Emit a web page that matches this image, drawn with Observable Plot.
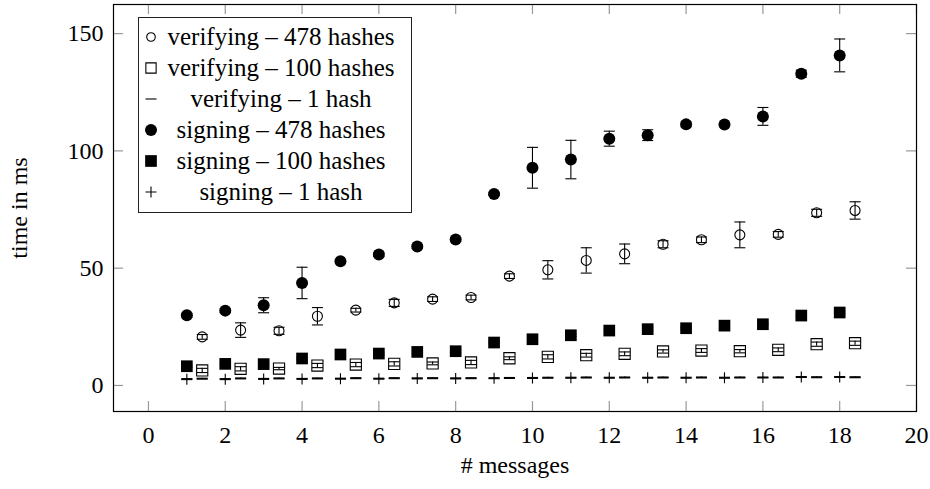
<!DOCTYPE html>
<html>
<head>
<meta charset="utf-8">
<script src="https://cdn.jsdelivr.net/npm/d3@7"></script>
<script src="https://cdn.jsdelivr.net/npm/@observablehq/plot@0.6"></script>
<style>
  html, body { margin: 0; padding: 0; background: #fff; }
  #wrap { position: relative; width: 930px; height: 489px; font-family: "Liberation Serif", "DejaVu Serif", serif; color: #000; }
  #legend { position: absolute; left: 138px; top: 17px; width: 274px; height: 196px; box-sizing: border-box; border: 1.2px solid #222; background: #fff; }
  .row { position: absolute; left: 0; width: 272px; height: 31px; }
  .row svg { position: absolute; left: 4px; top: 8px; }
  .row span { position: absolute; left: 24px; width: 236px; text-align: center; line-height: 31px; font-size: 25px; white-space: nowrap; }
</style>
</head>
<body>
<div id="wrap"><div id="chart"></div><div id="legend"></div></div>
<script>
// ---- data ----
const xSigning   = [1, 2, 3, 4, 5, 6, 7, 8, 9, 10, 11, 12, 13, 14, 15, 16, 17, 18];
const xVerifying = [1.4, 2.4, 3.4, 4.4, 5.4, 6.4, 7.4, 8.4, 9.4, 10.4, 11.4, 12.4, 13.4, 14.4, 15.4, 16.4, 17.4, 18.4];

const verifying478    = [20.7, 23.6, 23.3, 29.5, 32.1, 35.2, 36.8, 37.5, 46.6, 49.3, 53.3, 56.1, 60.2, 62.1, 64.2, 64.4, 73.6, 74.6];
const verifying478Err = [1.0, 3.1, 1.5, 3.7, 0.8, 1.5, 1.0, 1.0, 1.0, 3.9, 5.4, 4.2, 1.5, 1.2, 5.5, 1.2, 1.5, 3.7];
const verifying100    = [6.4, 7.1, 7.2, 8.5, 8.9, 9.2, 9.4, 9.8, 11.6, 12.2, 12.9, 13.5, 14.5, 14.9, 14.6, 15.2, 17.6, 18.0];
const verifying100Err = [0.9, 0.9, 0.5, 0.9, 0.9, 0.9, 0.6, 0.9, 0.6, 0.9, 0.8, 0.8, 0.7, 0.8, 0.7, 0.8, 0.9, 0.9];
const verifying1      = [2.9, 3.0, 3.0, 3.0, 3.1, 3.1, 3.1, 3.1, 3.2, 3.3, 3.4, 3.4, 3.4, 3.4, 3.4, 3.4, 3.5, 3.5];
const verifying1Err   = [0.2, 0.2, 0.2, 0.2, 0.2, 0.2, 0.2, 0.2, 0.2, 0.2, 0.2, 0.2, 0.2, 0.2, 0.2, 0.2, 0.2, 0.2];
const signing478      = [29.9, 31.9, 34.2, 43.7, 52.9, 55.8, 59.2, 62.2, 81.6, 92.8, 96.3, 105.2, 106.7, 111.3, 111.2, 114.7, 132.9, 140.7];
const signing478Err   = [0.8, 0.8, 3.2, 6.7, 0.8, 0.8, 0.8, 0.8, 0.6, 8.7, 8.2, 3.2, 2.3, 1.0, 0.5, 3.8, 1.5, 7.0];
const signing100      = [8.2, 9.2, 9.1, 11.5, 13.2, 13.6, 14.3, 14.6, 18.3, 19.7, 21.4, 23.4, 24.0, 24.4, 25.5, 26.1, 29.8, 31.1];
const signing100Err   = [0.5, 0.5, 0.5, 0.5, 0.5, 0.5, 0.5, 0.5, 0.5, 0.5, 0.5, 0.5, 0.5, 0.5, 0.5, 0.5, 0.5, 0.5];
const signing1        = [2.7, 2.7, 2.8, 2.8, 2.9, 2.9, 3.0, 3.0, 3.1, 3.2, 3.3, 3.3, 3.3, 3.3, 3.3, 3.4, 3.6, 3.6];
const signing1Err     = [0.2, 0.2, 0.2, 0.2, 0.2, 0.2, 0.2, 0.2, 0.2, 0.2, 0.2, 0.2, 0.2, 0.2, 0.2, 0.2, 0.2, 0.2];

const seriesNames = ["verifying – 478 hashes", "verifying – 100 hashes", "verifying – 1 hash",
                     "signing – 478 hashes", "signing – 100 hashes", "signing – 1 hash"];
const xTicks = [0, 2, 4, 6, 8, 10, 12, 14, 16, 18, 20];
const yTicks = [0, 50, 100, 150];

// ---- symbols ----
const hline = {draw(ctx, size) { const r = Math.sqrt(size / Math.PI); ctx.moveTo(-r, 0); ctx.lineTo(r, 0); }};
const plus  = {draw(ctx, size) { const r = Math.sqrt(size / Math.PI); ctx.moveTo(-r, 0); ctx.lineTo(r, 0); ctx.moveTo(0, -r); ctx.lineTo(0, r); }};

const styles = [
  {symbol: "circle", r: 5,   fill: "none",  stroke: "black"},
  {symbol: "square", r: 6.3, fill: "none",  stroke: "black"},
  {symbol: hline,    r: 5.5, fill: "none",  stroke: "black"},
  {symbol: "circle", r: 6,   fill: "black", stroke: "none"},
  {symbol: "square", r: 6.6, fill: "black", stroke: "none"},
  {symbol: plus,     r: 5.5, fill: "none",  stroke: "black"}
];

const seriesData = [
  [xVerifying, verifying478, verifying478Err],
  [xVerifying, verifying100, verifying100Err],
  [xVerifying, verifying1, verifying1Err],
  [xSigning, signing478, signing478Err],
  [xSigning, signing100, signing100Err],
  [xSigning, signing1, signing1Err]
];

const tables = seriesData.map(([xs, ys, es]) => xs.map((x, i) => ({x, y: ys[i], lo: ys[i] - es[i], hi: ys[i] + es[i]})));

const marginLeft = 113, marginRight = 14, marginTop = 4, marginBottom = 78;
const W = 930, H = 489;
const innerW = W - marginLeft - marginRight, innerH = H - marginTop - marginBottom;
const tickLen = 10;

const marks = [
  Plot.ruleX(xTicks, {x: d => d, stroke: "#999", strokeWidth: 1.2, insetTop: innerH - tickLen}),
  Plot.ruleX(xTicks, {x: d => d, stroke: "#999", strokeWidth: 1.2, insetBottom: innerH - tickLen}),
  Plot.ruleY(yTicks, {y: d => d, stroke: "#999", strokeWidth: 1.2, insetRight: innerW - tickLen}),
  Plot.ruleY(yTicks, {y: d => d, stroke: "#999", strokeWidth: 1.2, insetLeft: innerW - tickLen}),
  Plot.frame({stroke: "black", strokeWidth: 1.2}),
  Plot.axisX({ticks: xTicks, tickSize: 0, tickPadding: 14, tickFormat: d => String(d), fontSize: 24,
              label: "# messages", labelAnchor: "center", labelArrow: "none", labelOffset: 61}),
  Plot.axisY({ticks: yTicks, tickSize: 0, tickPadding: 10, tickFormat: d => String(d), fontSize: 24,
              label: "time in ms", labelAnchor: "center", labelArrow: "none", labelOffset: 104})
];

tables.forEach((data, k) => {
  const s = styles[k];
  marks.push(Plot.ruleX(data, {x: "x", y1: "lo", y2: "hi", stroke: "black", strokeWidth: 1.1}));
  marks.push(Plot.dot(data, {x: "x", y: "lo", symbol: hline, r: 5.5, stroke: "black", fill: "none", strokeWidth: 1.1}));
  marks.push(Plot.dot(data, {x: "x", y: "hi", symbol: hline, r: 5.5, stroke: "black", fill: "none", strokeWidth: 1.1}));
  marks.push(Plot.dot(data, {x: "x", y: "y", symbol: s.symbol, r: s.r, fill: s.fill, stroke: s.stroke, strokeWidth: 1.1}));
});

const chart = Plot.plot({
  width: W, height: H,
  marginLeft, marginRight, marginTop, marginBottom,
  style: {fontFamily: '"Liberation Serif", "DejaVu Serif", serif', fontSize: "24px", color: "black", background: "white"},
  x: {domain: [-0.91, 20]},
  y: {domain: [-11.1, 162.4]},
  marks
});
document.getElementById("chart").appendChild(chart);

const legend = document.getElementById("legend");
seriesNames.forEach((name, k) => {
  const s = styles[k];
  const row = document.createElement("div");
  row.className = "row";
  row.style.top = (3 + 31 * k) + "px";
  const svg = d3.create("svg").attr("width", 16).attr("height", 16);
  const sym = typeof s.symbol === "string" ? (s.symbol === "circle" ? d3.symbolCircle : d3.symbolSquare) : s.symbol;
  const lr = k === 0 ? 4.3 : k === 1 ? 5.8 : s.r;
  svg.append("path")
    .attr("transform", "translate(8,8)")
    .attr("d", d3.symbol(sym, Math.PI * lr * lr)())
    .attr("fill", s.fill).attr("stroke", s.stroke).attr("stroke-width", 1.1);
  row.appendChild(svg.node());
  const span = document.createElement("span");
  span.textContent = name;
  row.appendChild(span);
  legend.appendChild(row);
});
</script>
</body>
</html>
